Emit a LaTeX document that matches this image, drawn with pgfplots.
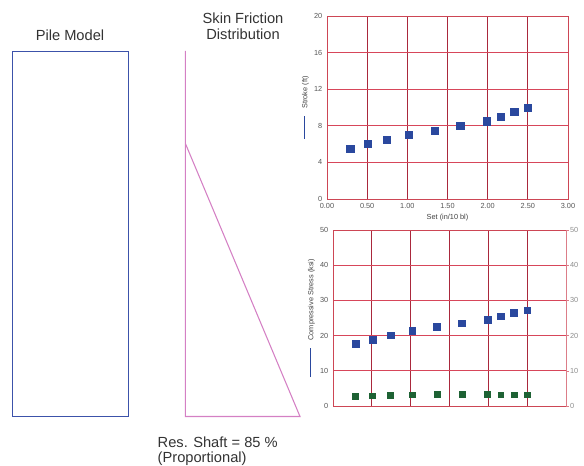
\documentclass[border=0pt]{standalone}
\usepackage{fontspec}
\setmainfont{Liberation Sans}
\usepackage{pgfplots}
\pgfplotsset{compat=1.18}

\definecolor{markblue}{RGB}{42,72,158}
\definecolor{markgreen}{RGB}{30,98,52}
\definecolor{pileblue}{RGB}{60,82,170}
\definecolor{friction}{RGB}{212,128,196}
\definecolor{gridv}{RGB}{170,40,60}
\definecolor{gridh}{RGB}{215,70,90}
\definecolor{frame}{RGB}{205,70,85}
\definecolor{ticktext}{RGB}{85,85,85}

% blow counts: set (in/10 bl) vs stroke and stresses
\pgfplotstableread{
set   stroke  comp   tens
0.29  5.5     17.6   2.8
0.51  6.0     18.9   2.9
0.74  6.5     20.1   3.1
1.02  7.0     21.3   3.2
1.34  7.5     22.5   3.3
1.66  8.0     23.5   3.3
1.99  8.5     24.5   3.3
2.16  9.0     25.5   3.2
2.33  9.5     26.4   3.2
2.50  10.0    27.2   3.2
}\drivingdata

\pgfplotsset{
  chart/.style={
    scale only axis,
    anchor=south west,
    xmin=0, xmax=3, ymin=0, ymax=50,
    xtick={0,0.5,...,3},
    grid=major,
    x grid style={gridv, line width=0.6pt},
    y grid style={gridh, line width=0.6pt},
    axis line style={frame, line width=0.6pt},
    major tick length=0pt,
    tick label style={font=\fontsize{5.5}{6}\selectfont, text=ticktext},
    label style={font=\fontsize{5.5}{6}\selectfont, text=black!75},
    /pgf/number format/assume math mode=true,
  },
}

\begin{document}
\begin{tikzpicture}
\useasboundingbox (0,0) rectangle (438pt,349.5pt);

% pile model and skin friction sketch, in pixel units
\begin{axis}[
  at={(0,0)}, anchor=south west,
  width=438pt, height=349.5pt, scale only axis,
  xmin=0, xmax=584, ymin=0, ymax=466, y dir=reverse,
  hide axis, clip=false,
]
\addplot[pileblue, line width=0.7pt] coordinates {(12.7,51) (128.3,51) (128.3,416.5) (12.7,416.5) (12.7,51)};
\addplot[friction, line width=0.8pt] coordinates {(185.3,51) (185.3,416.5) (300,416.5) (185.3,143.3)};
\node[font=\fontsize{11}{13}\selectfont, text=black!80] at (axis cs:70,35) {Pile Model};
\node[font=\fontsize{11}{13}\selectfont, text=black!80, align=center] at (axis cs:243,26.5) {Skin Friction\\[-1pt]Distribution};
\node[font=\fontsize{11}{13}\selectfont, text=black!80, anchor=west] at (axis cs:153,442) {Res. Shaft = 85 \%};
\node[font=\fontsize{11}{13}\selectfont, text=black!80, anchor=west] at (axis cs:153,459) {(Proportional)};
\end{axis}

% stroke vs set
\begin{axis}[
  chart,
  at={(245.25pt,200.25pt)},
  width=180.75pt, height=137.25pt,
  ymax=20, ytick={0,4,...,20},
  xticklabel style={/pgf/number format/.cd, fixed, fixed zerofill, precision=2},
  xlabel={Set (in/10 bl)},
  ylabel={{\color{markblue}\rule[0.6ex]{17pt}{0.5pt}}\quad Stroke (ft)},
  xlabel shift=-3pt, ylabel shift=-3pt,
]
\addplot[only marks, mark=square*, mark size=2.7pt, color=markblue] table[x=set, y=stroke] {\drivingdata};
\end{axis}

% compressive / tensile stress vs set
\begin{axis}[
  chart,
  at={(249.75pt,45pt)},
  width=174.75pt, height=132pt,
  ytick={0,10,...,50},
  xticklabels={},
  ylabel={{\color{markblue}\rule[0.6ex]{22pt}{0.5pt}}\quad Compressive Stress (ksi)},
  ylabel shift=-3pt,
]
\addplot[only marks, mark=square*, mark size=2.5pt, color=markblue] table[x=set, y=comp] {\drivingdata};
\addplot[only marks, mark=square*, mark size=2.2pt, color=markgreen] table[x=set, y=tens] {\drivingdata};
\end{axis}

% right-hand scale of the stress chart
\begin{axis}[
  scale only axis, anchor=south west,
  at={(249.75pt,45pt)},
  width=174.75pt, height=132pt,
  xmin=0, xmax=3, ymin=0, ymax=50,
  axis x line=none, axis y line*=right,
  ytick={0,10,...,50},
  axis line style={frame!70, line width=0.6pt},
  tick align=outside, major tick length=2pt,
  tick style={frame!70},
  yticklabel style={font=\fontsize{5.5}{6}\selectfont, text=black!45, xshift=-2.5pt},
  /pgf/number format/assume math mode=true,
]
\addplot[draw=none] coordinates {(0,0) (3,50)};
\end{axis}
\end{tikzpicture}
\end{document}
